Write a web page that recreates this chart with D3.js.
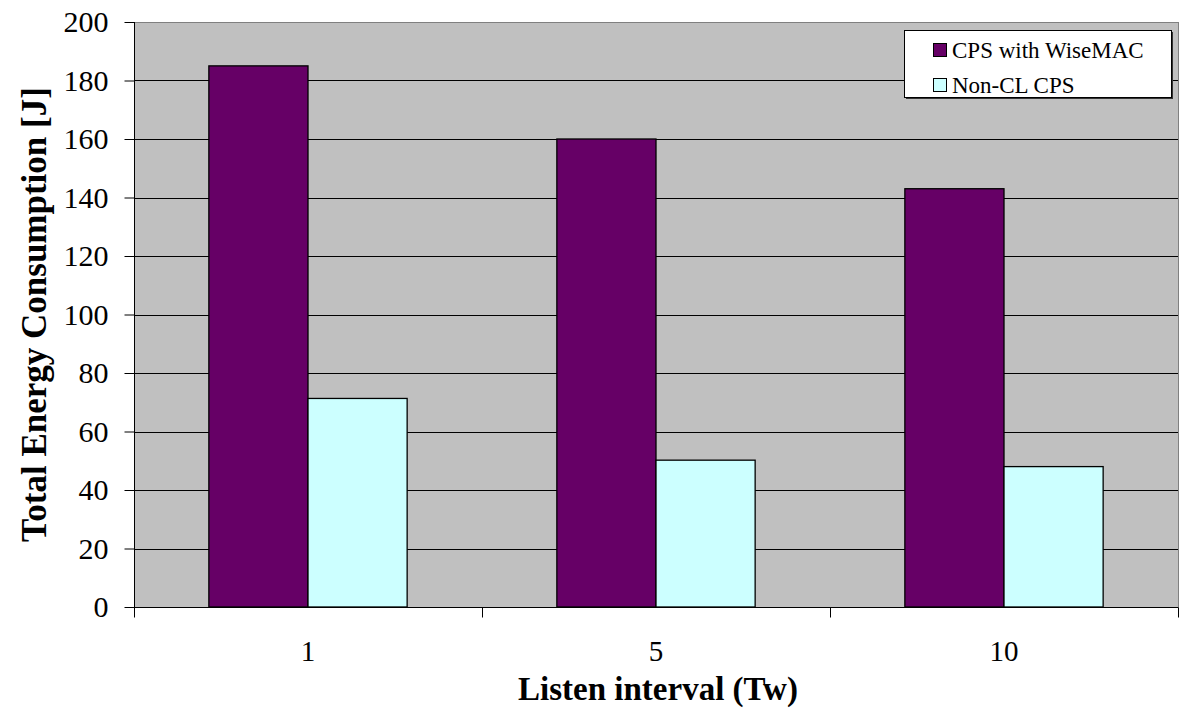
<!DOCTYPE html>
<html><head><meta charset="utf-8">
<script src="https://cdn.jsdelivr.net/npm/d3@7"></script>
<style>body{margin:0;background:#fff}svg{display:block}text{font-family:"Liberation Serif","Times New Roman",serif}</style>
</head><body>
<svg id="c" width="1182" height="713"></svg>
<script>
const categories = ["1", "5", "10"];
const seriesNames = ["CPS with WiseMAC", "Non-CL CPS"];
const wiseMAC = [185, 160, 143];
const nonCL = [71.3, 50.2, 48];
const yTicks = [0, 20, 40, 60, 80, 100, 120, 140, 160, 180, 200];
const colors = ["#660066", "#ccffff"];

const FONT = "'Liberation Serif', 'Times New Roman', serif";
const svg = d3.select("#c");
const L = 134, R = 1178, T = 22, B = 607;
const x = d3.scaleBand().domain(categories).range([L, R]).paddingInner(0).paddingOuter(0);
const y = d3.scaleLinear().domain([0, 200]).range([B, T]);
const inner = d3.scaleBand().domain(seriesNames).range([0, x.bandwidth()]).paddingOuter(0.755).paddingInner(0);

svg.append("rect").attr("x", L + 0.5).attr("y", T + 0.5).attr("width", R - L).attr("height", B - T)
  .attr("fill", "#c0c0c0").attr("stroke", "#808080").attr("stroke-width", 1);

// gridlines
svg.append("g").selectAll("line").data(yTicks.slice(1, -1)).join("line")
  .attr("x1", L).attr("x2", R).attr("y1", d => Math.round(y(d)) + 0.5).attr("y2", d => Math.round(y(d)) + 0.5)
  .attr("stroke", "#000").attr("stroke-width", 1);

const data = [wiseMAC, nonCL];
data.forEach((vals, si) => {
  svg.append("g").selectAll("rect").data(vals).join("rect")
    .attr("x", (d, i) => x(categories[i]) + inner(seriesNames[si]))
    .attr("y", d => y(d))
    .attr("width", inner.bandwidth())
    .attr("height", d => B - y(d))
    .attr("fill", colors[si]).attr("stroke", "#000").attr("stroke-width", 1.3);
});

// y axis
const ya = svg.append("g").attr("transform", `translate(${L + 0.5},0)`)
  .call(d3.axisLeft(y).tickValues(yTicks).tickSize(10).tickPadding(16).tickFormat(d3.format("d")));
ya.attr("font-family", FONT);
ya.select(".domain").attr("stroke", "#000").attr("d", `M-0,${B}V${T}`);
ya.selectAll(".tick line").attr("stroke", "#000");
ya.selectAll("text").attr("font-family", FONT).attr("font-size", 30).attr("fill", "#000");

// x axis
const xa = svg.append("g").attr("transform", `translate(0,${B + 0.5})`);
xa.append("line").attr("x1", L).attr("x2", R).attr("stroke", "#000");
const bounds = [L].concat(categories.map(c => x(c) + x.bandwidth()));
xa.selectAll("line.t").data(bounds).join("line").attr("class", "t")
  .attr("x1", d => Math.round(d) + 0.5).attr("x2", d => Math.round(d) + 0.5).attr("y1", 0).attr("y2", 10).attr("stroke", "#000");
xa.selectAll("text").data(categories).join("text")
  .attr("x", d => x(d) + x.bandwidth() / 2).attr("y", 53)
  .attr("text-anchor", "middle")
  .attr("font-family", FONT).attr("font-size", 29).text(d => d);

// titles
svg.append("text").attr("x", 658).attr("y", 700).attr("text-anchor", "middle")
  .attr("font-family", FONT).attr("font-weight", "bold").attr("font-size", 33)
  .text("Listen interval (Tw)");
svg.append("text").attr("transform", `translate(46,${(T + B) / 2}) rotate(-90)`).attr("text-anchor", "middle")
  .attr("font-family", FONT).attr("font-weight", "bold").attr("font-size", 35)
  .text("Total Energy Consumption [J]");

// legend
const lg = svg.append("g");
lg.append("rect").attr("x", 906).attr("y", 32).attr("width", 267).attr("height", 67).attr("fill", "#333");
lg.append("rect").attr("x", 904.5).attr("y", 30.5).attr("width", 267).attr("height", 67).attr("fill", "#fff").attr("stroke", "#000");
seriesNames.forEach((s, i) => {
  const cy = 50 + i * 35;
  lg.append("rect").attr("x", 933.5).attr("y", cy - 6.5).attr("width", 13).attr("height", 13)
    .attr("fill", colors[i]).attr("stroke", "#000");
  lg.append("text").attr("x", 952).attr("y", cy + 7.5)
    .attr("font-family", FONT).attr("font-size", 23).text(s);
});
</script>
</body></html>
